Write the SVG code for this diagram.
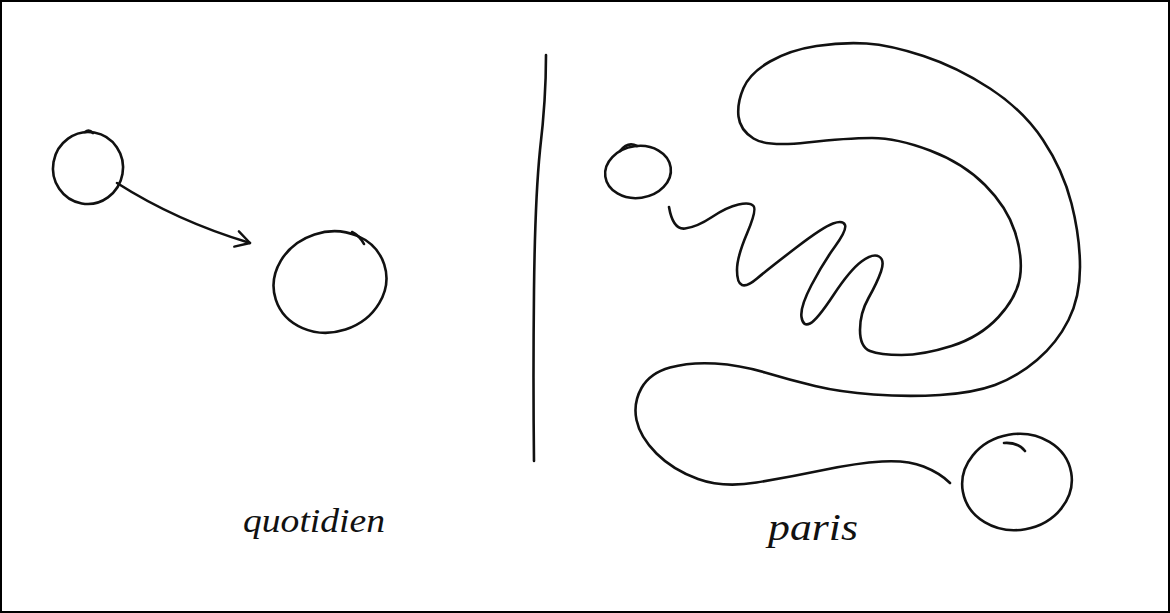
<svg xmlns="http://www.w3.org/2000/svg" width="1170" height="613" viewBox="0 0 1170 613">
<style>
.ink{fill:none;stroke:#111;stroke-width:2.6;stroke-linecap:round;stroke-linejoin:round}
.lbl{font-family:"Liberation Serif",serif;font-style:italic;fill:#111}
</style>
<defs>
<marker id="ah" viewBox="0 0 20 20" refX="18" refY="10" markerWidth="20" markerHeight="20" markerUnits="userSpaceOnUse" orient="auto">
<path d="M4,2 L18,10 L4,18" fill="none" stroke="#111" stroke-width="2.4" stroke-linecap="round" stroke-linejoin="round"/>
</marker>
</defs>
<rect x="1" y="1" width="1168" height="611" fill="#fff" stroke="#000" stroke-width="2"/>
<g id="daily-start">
<ellipse class="ink" cx="88" cy="168" rx="35" ry="36" transform="rotate(10 88 168)"/>
<path class="ink" d="M85,132 Q89,129 93,133"/>
</g>
<g id="daily-end">
<ellipse class="ink" cx="330" cy="282" rx="57" ry="50" transform="rotate(-18 330 282)"/>
<path class="ink" d="M352,232 Q360,236 364,244"/>
</g>
<g id="divider">
<path class="ink" d="M546,55 Q546,100 540,150 Q535,200 534,290 Q533,380 534,461"/>
</g>
<g id="paris-start">
<ellipse class="ink" cx="638" cy="172" rx="33" ry="26" transform="rotate(-8 638 172)"/>
<path class="ink" d="M620,151 Q628,141 637,146"/>
</g>
<g id="paris-path">
<path class="ink" d="M669,207 Q673,230 685,228.5 Q697,227 712,217 Q727,207 738.5,204.5 Q750,202 753.5,206 Q757,210 747,233.5 Q737,257 737,270 Q737,283 742,285 Q747,287 757,278.5 Q767,270 795,248.5 Q823,227 833,223.5 Q843,220 845,225 Q847,230 835,246.5 Q823,263 811.5,285 Q800,307 801.5,317 Q803,327 810,323.5 Q817,320 833.5,295 Q850,270 861.5,261.5 Q873,253 879,256.5 Q885,260 881,271.5 Q877,283 868.5,298 Q860,313 860,330 Q860,347 870,351 Q880,355 901.5,355 Q923,355 951.5,346 Q980,337 998.5,317 Q1017,297 1020,277 Q1023,257 1015,232 Q1007,207 985,185 Q963,163 930,150.5 Q897,138 872,138 Q847,138 807,142.5 Q767,147 753.5,138.5 Q740,130 738.5,116.5 Q737,103 743.5,88 Q750,73 770,61.5 Q790,50 816.5,46 Q843,42 866.5,43.5 Q890,45 923.5,56 Q957,67 990,88.5 Q1023,110 1043,140 Q1063,170 1071.5,203.5 Q1080,237 1080,267 Q1080,297 1068.5,320 Q1057,343 1037,360 Q1017,377 995,385 Q973,393 940,395 Q907,397 873.5,394.5 Q840,392 815,386 Q790,380 765,372.5 Q740,365 715,363.5 Q690,362 670,367.5 Q650,373 641.5,388 Q633,403 636.5,420 Q640,437 656.5,453.5 Q673,470 698,479 Q723,488 756.5,482.5 Q790,477 823.5,470 Q857,463 882,461.5 Q907,460 923.5,466.5 Q940,473 950,483"/>
</g>
<g id="paris-end">
<ellipse class="ink" cx="1017" cy="482" rx="55" ry="48" transform="rotate(-10 1017 482)"/>
<path class="ink" d="M1004,443 Q1018,442 1025,451"/>
</g>
<g id="connectors">
<path class="ink" d="M117,183 Q176.5,221 250,243" marker-end="url(#ah)"/>
</g>
<g id="labels">
<text class="lbl" x="243" y="532" font-size="34" textLength="142" lengthAdjust="spacingAndGlyphs">quotidien</text>
<text class="lbl" x="768" y="540" font-size="38" textLength="90" lengthAdjust="spacingAndGlyphs">paris</text>
</g>
</svg>
